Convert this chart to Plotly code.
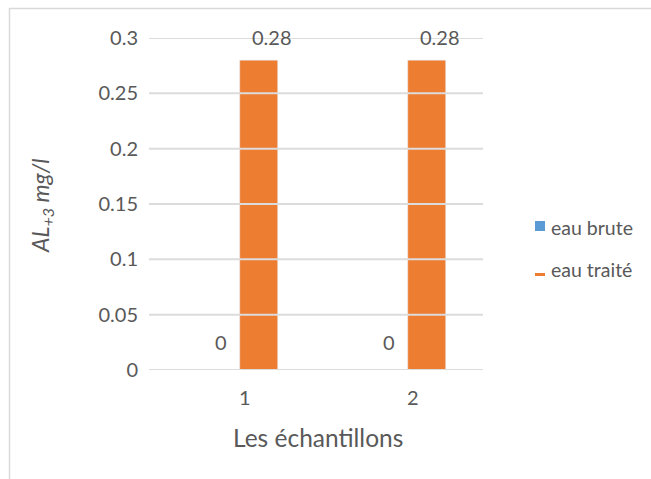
import plotly.graph_objects as go

# Aluminium concentration (mg/l) for each sample
samples = [1, 2]
eau_brute = [0, 0]
eau_traite = [0.28, 0.28]
y_ticks = [0, 0.05, 0.1, 0.15, 0.2, 0.25, 0.3]
y_tick_labels = ["0", "0.05", "0.1", "0.15", "0.2", "0.25", "0.3"]

BLUE = "#5b9bd5"
ORANGE = "#ed7d31"
GRID = "#dcdcdc"
TEXT = "#595959"
FONT = "Lato, Open Sans, sans-serif"
X_RANGE = [0.46, 2.448]

fig = go.Figure()
fig.add_trace(go.Bar(x=samples, y=eau_brute, name="eau brute",
                     marker_color=BLUE, width=0.226, offset=-0.226))
fig.add_trace(go.Bar(x=samples, y=eau_traite, name="eau traité",
                     marker_color=ORANGE, width=0.226, offset=0))

# horizontal gridlines, drawn as a line trace so they sit on top of the bars
gx, gy = [], []
for t in y_ticks:
    gx += [X_RANGE[0], X_RANGE[1], None]
    gy += [t, t, None]
fig.add_trace(go.Scatter(x=gx, y=gy, mode="lines", line=dict(color=GRID, width=2),
                         hoverinfo="skip", showlegend=False, cliponaxis=False))

# value labels
for xv, v in zip(samples, eau_brute):
    fig.add_annotation(x=xv - 0.113, y=v, text=f"{v:g}", showarrow=False,
                       yanchor="bottom", yshift=14, font=dict(size=20, color=TEXT, family=FONT))
for xv, v in zip(samples, eau_traite):
    fig.add_annotation(x=xv + 0.113, y=v, text=f"{v:g}", showarrow=False,
                       yanchor="bottom", yshift=9, xshift=13,
                       font=dict(size=20, color=TEXT, family=FONT))

# outer chart frame (top and left edges)
L, R, T, B = 149, 483, 38, 370
W, H = 651, 479
def px(x):
    return (x - L) / (R - L)
def py(y):
    return (B - y) / (B - T)
fig.add_shape(type="line", xref="paper", yref="paper", x0=px(9), x1=px(651),
              y0=py(8.5), y1=py(8.5), line=dict(color="#d9d9d9", width=1.5))
fig.add_shape(type="line", xref="paper", yref="paper", x0=px(9.5), x1=px(9.5),
              y0=py(8), y1=py(479), line=dict(color="#d9d9d9", width=1.5))

# legend entries
fig.add_shape(type="rect", xref="paper", yref="paper", x0=px(535), x1=px(545),
              y0=py(231), y1=py(221), fillcolor=BLUE, line=dict(width=0))
fig.add_shape(type="rect", xref="paper", yref="paper", x0=px(535), x1=px(545),
              y0=py(276), y1=py(273), fillcolor=ORANGE, line=dict(width=0))
fig.add_annotation(xref="paper", yref="paper", x=px(549), y=py(227), text="eau brute",
                   showarrow=False, xanchor="left", yanchor="middle",
                   font=dict(size=19.5, color=TEXT, family=FONT))
fig.add_annotation(xref="paper", yref="paper", x=px(549), y=py(269), text="eau traité",
                   showarrow=False, xanchor="left", yanchor="middle",
                   font=dict(size=19.5, color=TEXT, family=FONT))

# axis titles
fig.add_annotation(xref="paper", yref="paper", x=px(318), y=py(438), text="Les échantillons",
                   showarrow=False, xanchor="center", yanchor="middle",
                   font=dict(size=24.5, color=TEXT, family=FONT))
fig.add_annotation(xref="paper", yref="paper", x=px(41), y=py(206),
                   text="<i>AL<sub>+3</sub> mg/l</i>", textangle=-90,
                   showarrow=False, xanchor="center", yanchor="middle",
                   font=dict(size=23, color=TEXT, family=FONT))

fig.update_layout(
    width=W, height=H,
    margin=dict(l=L, r=W - R, t=T, b=H - B, pad=0),
    paper_bgcolor="white", plot_bgcolor="white",
    showlegend=False, barmode="overlay",
    font=dict(family=FONT, color=TEXT, size=20),
)
fig.update_xaxes(range=X_RANGE, tickvals=samples, ticktext=[str(s) for s in samples],
                 showgrid=False, zeroline=False, showline=False, ticks="",
                 ticklabelstandoff=14, ticklabelshift=5, tickfont=dict(size=20, color=TEXT))
fig.update_yaxes(range=[0, 0.3], tickvals=y_ticks, ticktext=y_tick_labels,
                 showgrid=False, zeroline=False, showline=False, ticks="",
                 ticklabelstandoff=10, tickfont=dict(size=20, color=TEXT))

fig.write_html("out.html")
